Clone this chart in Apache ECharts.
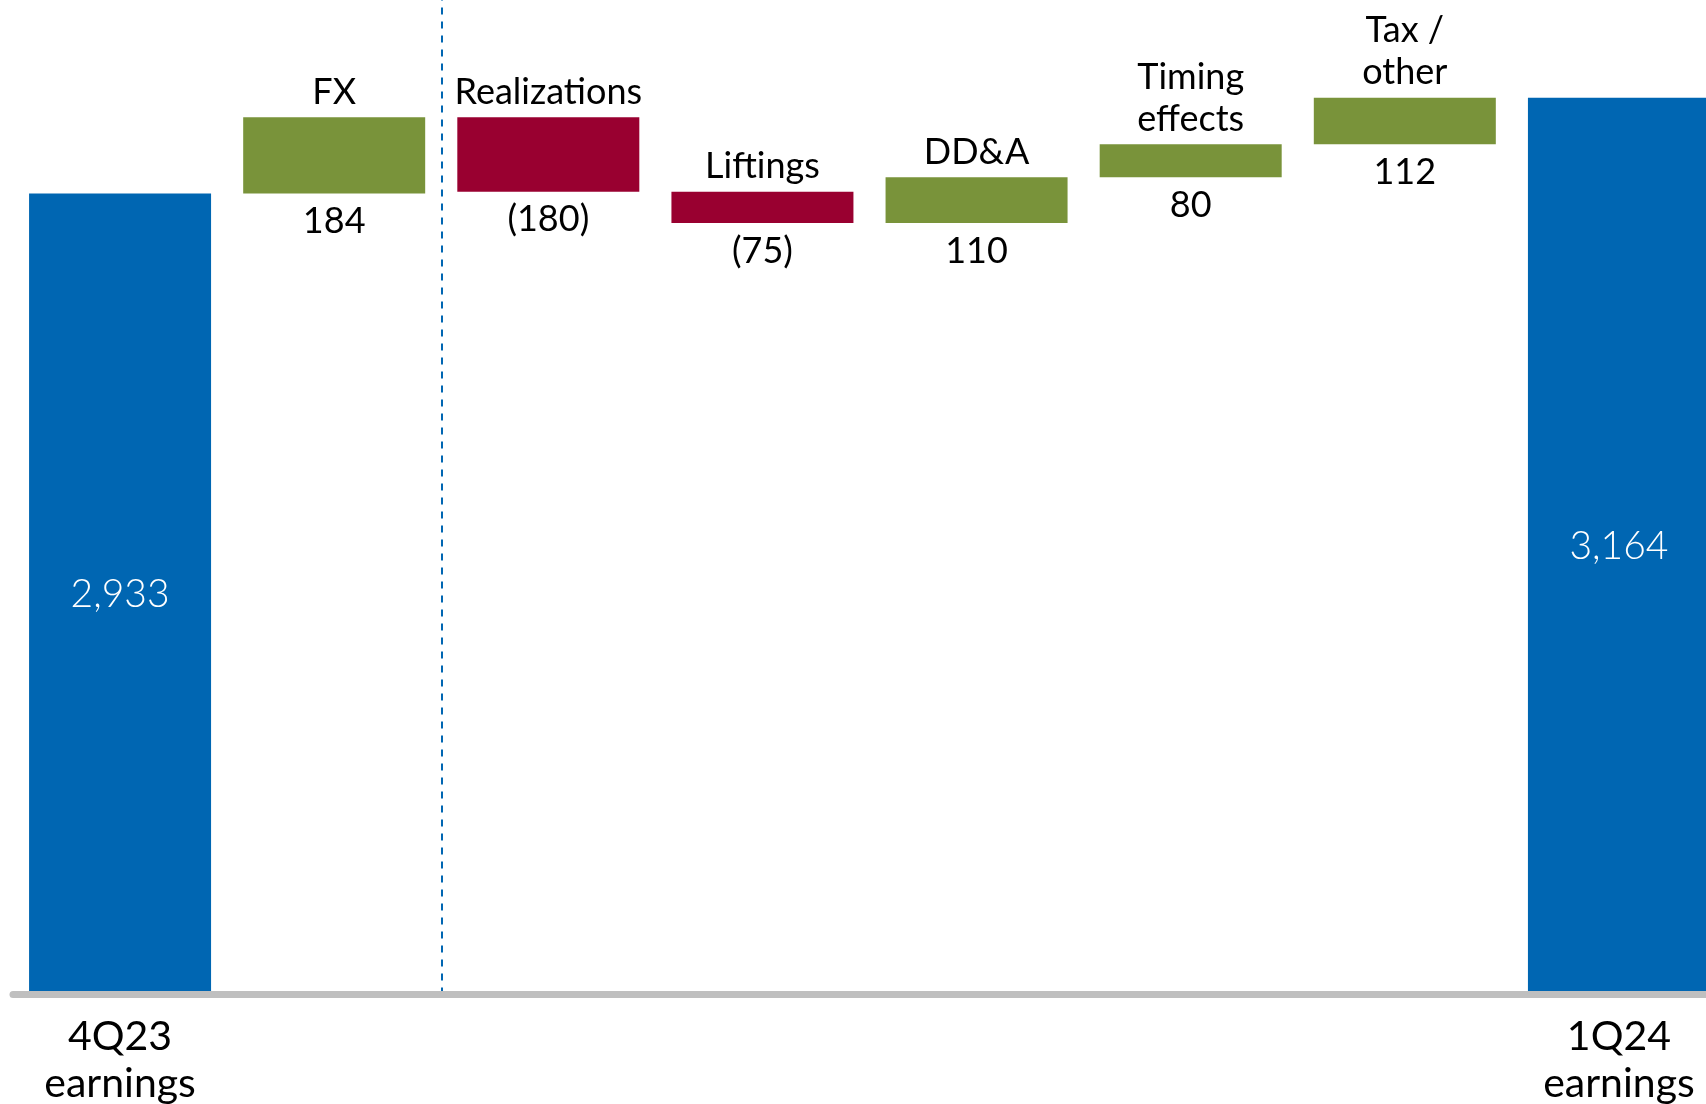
<!DOCTYPE html>
<html>
<head>
<meta charset="utf-8">
<script src="https://cdn.jsdelivr.net/npm/echarts@6/dist/echarts.min.js"></script>
<style>
html,body{margin:0;padding:0;background:#fff;}
#chart{width:1706px;height:1104px;}
</style>
</head>
<body>
<div id="chart"></div>
<script>
const categories = ['4Q23\nearnings', 'FX', 'Realizations', 'Liftings', 'DD&A', 'Timing\neffects', 'Tax /\nother', '1Q24\nearnings'];
const kinds = ['total', 'delta', 'delta', 'delta', 'delta', 'delta', 'delta', 'total'];
const values = [2933, 184, -180, -75, 110, 80, 112, 3164];
// divider drawn on the boundary before this category index
const dividerBeforeIndex = 2;

const COLOR_TOTAL = '#0066B2';
const COLOR_UP = '#79933A';
const COLOR_DOWN = '#990030';
const FONT = 'Lato, "Open Sans", sans-serif';

function fmt(v) {
  const s = Math.abs(v).toLocaleString('en-US');
  return v < 0 ? '(' + s + ')' : s;
}

let running = 0;
const baseData = [];
const barData = [];
categories.forEach((name, i) => {
  const v = values[i];
  if (kinds[i] === 'total') {
    running = v;
    baseData.push({ value: 0, label: { show: false } });
    barData.push({
      value: v,
      itemStyle: { color: COLOR_TOTAL },
      label: {
        show: true, position: 'inside', color: '#ffffff',
        fontSize: 39, fontWeight: 300, fontFamily: FONT,
        formatter: () => fmt(v)
      }
    });
  } else {
    let b;
    if (v >= 0) { b = running; running += v; }
    else { running += v; b = running; }
    baseData.push({
      value: b,
      label: {
        show: true, position: 'insideTop', distance: 10,
        color: '#000', fontSize: 36, fontFamily: FONT,
        formatter: () => fmt(v)
      }
    });
    barData.push({
      value: Math.abs(v),
      itemStyle: { color: v >= 0 ? COLOR_UP : COLOR_DOWN },
      label: {
        show: true, position: 'top', distance: 4,
        color: '#000', fontSize: 36, lineHeight: 42, fontFamily: FONT,
        formatter: () => name
      }
    });
  }
});

const chart = echarts.init(document.getElementById('chart'));
chart.setOption({
  animation: false,
  grid: { left: 13, top: 0, right: -20, bottom: 109.5, containLabel: false, outerBoundsMode: 'none' },
  xAxis: [{
    type: 'category',
    data: categories,
    z: 10,
    axisLine: { show: true, lineStyle: { color: '#BFBFBF', width: 7 } },
    axisTick: { show: false },
    axisLabel: {
      show: true, interval: 0, margin: 19,
      color: '#000', fontSize: 41, lineHeight: 47, fontFamily: FONT,
      formatter: (val, idx) => kinds[idx] === 'total' ? val : ''
    },
    splitLine: { show: false }
  }, {
    type: 'value', min: 0, max: categories.length, show: false,
    splitLine: { show: false }
  }],
  yAxis: {
    type: 'value', min: 1000, max: 3400, show: false,
    splitLine: { show: false }
  },
  series: [
    {
      type: 'bar', stack: 'w', barWidth: '85%', silent: true,
      itemStyle: { color: 'rgba(0,0,0,0)' },
      emphasis: { disabled: true },
      data: baseData
    },
    {
      type: 'bar', stack: 'w', barWidth: '85%', silent: true,
      emphasis: { disabled: true },
      data: barData
    },
    {
      type: 'line', xAxisIndex: 1, yAxisIndex: 0, silent: true,
      showSymbol: false, data: [],
      markLine: {
        silent: true, symbol: 'none', label: { show: false },
        lineStyle: { color: COLOR_TOTAL, width: 2, type: [7, 7] },
        data: [{ xAxis: dividerBeforeIndex }]
      }
    }
  ]
});
</script>
</body>
</html>
